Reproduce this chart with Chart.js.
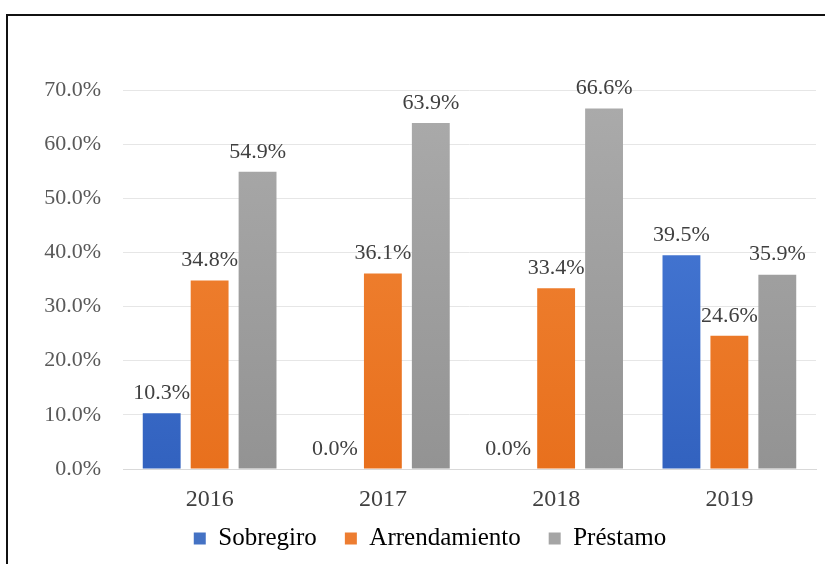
<!DOCTYPE html>
<html>
<head>
<meta charset="utf-8">
<script src="https://cdn.jsdelivr.net/npm/chart.js"></script>
<style>
  html, body { margin: 0; padding: 0; background: #fff; overflow: hidden; }
  .frame {
    position: absolute; left: 6px; top: 14px; width: 900px; height: 700px;
    border-top: 2px solid #111; border-left: 2px solid #111;
  }
  .wrap { position: absolute; left: 8px; top: 16px; width: 817px; height: 548px; }
</style>
</head>
<body>
<div class="frame"></div>
<div class="wrap"><canvas id="chart"></canvas></div>
<script>
// chart values
const years = ['2016', '2017', '2018', '2019'];
const seriesNames = ['Sobregiro', 'Arrendamiento', 'Préstamo'];
const sobregiro = [10.3, 0.0, 0.0, 39.5];
const arrendamiento = [34.8, 36.1, 33.4, 24.6];
const prestamo = [54.9, 63.9, 66.6, 35.9];
const yTicks = [0, 10, 20, 30, 40, 50, 60, 70];

// colours: [top, bottom, legend]
const palette = [
  ['#4d80dc', '#3262bf', '#4472c4'],
  ['#f2883a', '#e8701d', '#ed7d31'],
  ['#ababab', '#939393', '#a5a5a5']
];

function barFill(i) {
  return function(ctx) {
    const area = ctx.chart.chartArea;
    if (!area) return palette[i][2];
    const g = ctx.chart.ctx.createLinearGradient(0, area.top, 0, area.bottom);
    g.addColorStop(0, palette[i][0]);
    g.addColorStop(1, palette[i][1]);
    return g;
  };
}

// value labels above each bar
const valueLabels = {
  id: 'valueLabels',
  afterDatasetsDraw(chart) {
    const ctx = chart.ctx;
    ctx.save();
    ctx.font = '22px "Liberation Serif", "Times New Roman", serif';
    ctx.fillStyle = '#404040';
    ctx.textAlign = 'center';
    ctx.textBaseline = 'middle';
    chart.data.datasets.forEach((ds, di) => {
      chart.getDatasetMeta(di).data.forEach((bar, i) => {
        ctx.fillText(ds.data[i].toFixed(1) + '%', bar.x, bar.y - 20);
      });
    });
    ctx.restore();
  }
};

const serif = '"Liberation Serif", "Times New Roman", serif';

const chart = new Chart(document.getElementById('chart'), {
  type: 'bar',
  data: {
    labels: years,
    datasets: [sobregiro, arrendamiento, prestamo].map((d, i) => ({
      label: seriesNames[i],
      data: d,
      backgroundColor: barFill(i),
      borderWidth: 0,
      categoryPercentage: 0.83,
      barPercentage: 0.79
    }))
  },
  options: {
    responsive: true,
    maintainAspectRatio: false,
    animation: false,
    layout: { padding: { left: 36, right: 9, top: 74, bottom: 0 } },
    scales: {
      x: {
        grid: { display: false },
        border: { display: true, color: '#d9d9d9' },
        ticks: { color: '#404040', font: { family: serif, size: 24 }, padding: 8 },
        afterFit(scale) { scale.height = 45; }
      },
      y: {
        min: 0,
        max: 70,
        afterBuildTicks(scale) { scale.ticks = yTicks.map(v => ({ value: v })); },
        grid: { color: '#e6e6e6', drawTicks: false },
        border: { display: false },
        ticks: {
          color: '#595959',
          font: { family: serif, size: 22 },
          padding: 22,
          callback: v => v.toFixed(1) + '%'
        },
        afterFit(scale) { scale.width = 79; }
      }
    },
    plugins: {
      legend: {
        position: 'bottom',
        labels: {
          color: '#404040',
          font: { family: serif, size: 25 },
          boxWidth: 12,
          boxHeight: 12,
          padding: 28,
          generateLabels(chart) {
            return seriesNames.map((n, i) => ({
              text: n,
              fillStyle: palette[i][2],
              strokeStyle: palette[i][2],
              lineWidth: 0,
              datasetIndex: i
            }));
          }
        }
      },
      tooltip: { enabled: false }
    }
  },
  plugins: [valueLabels]
});

// legend: keep the wide horizontal spacing but use less height, and draw it a bit higher
const legend = chart.legend;
const fitLegend = legend.fit;
legend.fit = function() {
  fitLegend.call(this);
  this.height = 50;
};
const drawLegend = legend.draw;
legend.draw = function() {
  const ctx = this.chart.ctx;
  const lift = 16;
  const oldBottom = this.bottom;
  this.bottom += lift; // the legend clips to its own box, so grow it to cover the shift
  ctx.save();
  ctx.translate(0, -lift);
  drawLegend.call(this);
  ctx.restore();
  this.bottom = oldBottom;
};
chart.update();
</script>
</body>
</html>
